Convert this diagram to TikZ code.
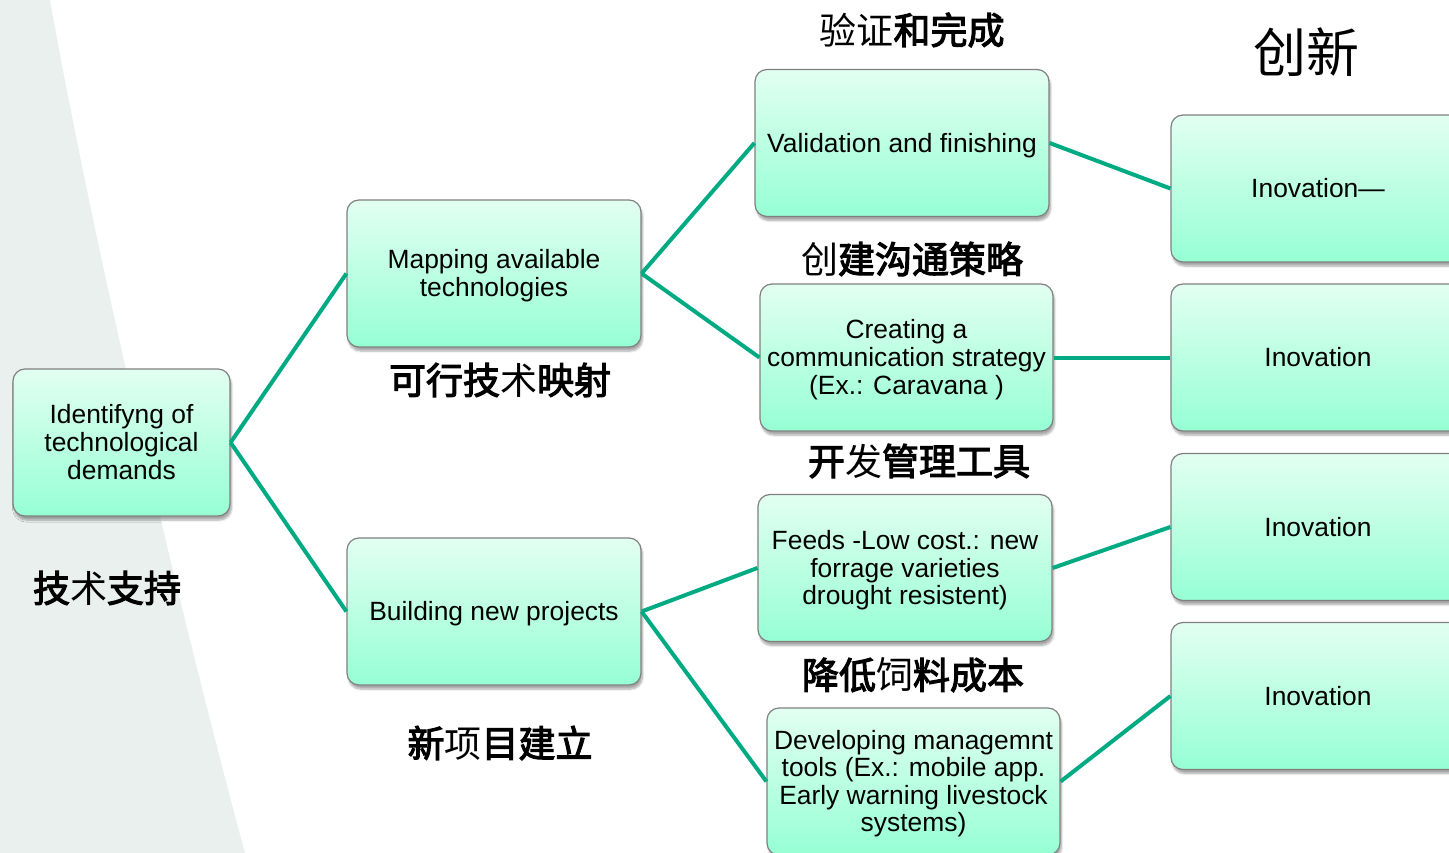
\documentclass[tikz,border=0pt]{standalone}
\usepackage{fontspec}
\setmainfont{Liberation Sans}
\newfontfamily\cjk{Noto Sans CJK SC}
\newfontfamily\cjkb{Noto Sans CJK SC}[FakeBold=3]
\usetikzlibrary{shadows.blur}
\definecolor{linec}{RGB}{0,170,130}
\definecolor{boxtop}{RGB}{226,255,242}
\definecolor{boxbot}{RGB}{150,255,212}
\definecolor{bgc}{RGB}{233,240,238}
\definecolor{borderc}{RGB}{128,128,128}
\newcommand{\bt}[1]{\raisebox{-3.5pt}[\height][\depth]{\begin{tabular}{@{}c@{}}#1\end{tabular}}}
\tikzset{
  box/.style={draw=borderc, line width=1.2pt, rounded corners=12pt,
    top color=boxtop, bottom color=boxbot,
    minimum width=294pt, minimum height=147pt, inner sep=2pt,
    font=\fontsize{26.4}{27.6}\selectfont,
    blur shadow={shadow xshift=1.5pt, shadow yshift=-4pt, shadow blur steps=6, shadow opacity=35}},
  conn/.style={draw=linec, line width=4pt},
  zh/.style={font=\cjkb\fontsize{37}{40}\selectfont, inner sep=0pt},
}
\newcommand{\lite}[1]{{\cjk #1}}
\begin{document}
\begin{tikzpicture}[x=1pt,y=-1pt]
\useasboundingbox (0,0) rectangle (1449,853);
\fill[bgc] (0,0) -- (50,0) .. controls (100,280) and (190,650) .. (245,853) -- (0,853) -- cycle;

% boxes
\node[box, minimum width=217pt] (A) at (121.5,442.5) {\bt{Identifyng of\\technological\\demands}};
\node[box] (B) at (494,273.5) {\bt{Mapping available\\technologies}};
\node[box] (C) at (494,611.5) {\bt{Building new projects}};
\node[box] (D) at (902,143) {\bt{Validation and finishing}};
\node[box, minimum width=293pt] (E) at (906.5,357.5) {\bt{Creating a\\communication strategy\\(Ex.: Caravana )}};
\node[box] (F) at (905,568) {\bt{Feeds -Low cost.: new\\forrage varieties\\drought resistent)}};
\node[box, minimum width=293pt] (G) at (913.5,781.5) {\bt{Developing managemnt\\tools (Ex.: mobile app.\\Early warning livestock\\systems)}};
\node[box] (R1) at (1318,188.5) {\bt{Inovation---}};
\node[box] (R2) at (1318,357.5) {\bt{Inovation}};
\node[box] (R3) at (1318,527) {\bt{Inovation}};
\node[box] (R4) at (1318,696) {\bt{Inovation}};

% connectors
\draw[conn] (A.east) -- (B.west);
\draw[conn] (A.east) -- (C.west);
\draw[conn] (B.east) -- (D.west);
\draw[conn] (B.east) -- (E.west);
\draw[conn] (C.east) -- (F.west);
\draw[conn] (C.east) -- (G.west);
\draw[conn] (D.east) -- (R1.west);
\draw[conn] (E.east) -- (R2.west);
\draw[conn] (F.east) -- (R3.west);
\draw[conn] (G.east) -- (R4.west);

% chinese labels
\node[zh] (t1) at (912,30) {\lite{验证}和完成};
\node[inner sep=0pt, font=\cjk\fontsize{53}{56}\selectfont] (t2) at (1306,52) {创新};
\node[zh] (t3) at (912,259) {\lite{创}建沟通策略};
\node[zh] (t4) at (500,380) {可行技\lite{术}映射};
\node[zh] (t5) at (919,461) {开\lite{发}管理工具};
\node[zh] (t6) at (107,588) {技\lite{术}支持};
\node[zh] (t7) at (913,675) {降低\lite{饲}料成本};
\node[zh] (t8) at (500,743) {新\lite{项}目建立};
\end{tikzpicture}
\end{document}
